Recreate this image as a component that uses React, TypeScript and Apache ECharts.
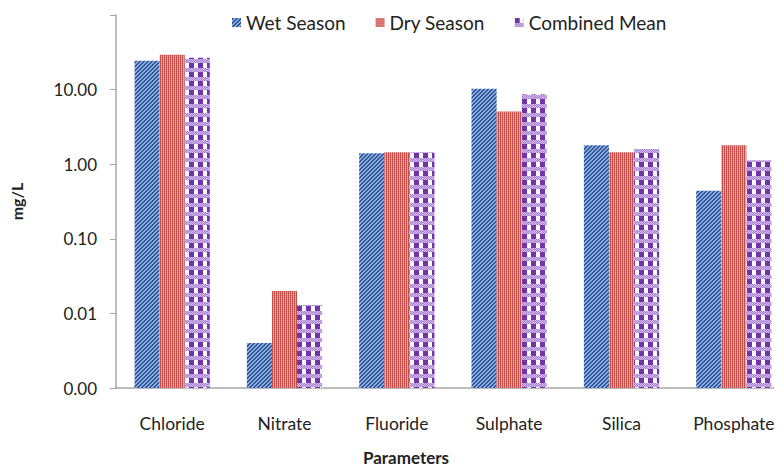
import React, { useEffect, useRef } from "react";
import * as echarts from "echarts";

const categories = ["Chloride", "Nitrate", "Fluoride", "Sulphate", "Silica", "Phosphate"];
const wetSeason = [24.4, 0.004, 1.4, 10.3, 1.8, 0.44];
const drySeason = [29.3, 0.02, 1.45, 5.1, 1.45, 1.8];
const combinedMean = [26.7, 0.013, 1.45, 8.6, 1.6, 1.13];
const yTickLabels = ["0.00", "0.01", "0.10", "1.00", "10.00", ""];

type Painter = (x: number, y: number) => string;

function makePattern(w: number, h: number, paint: Painter) {
  const c = document.createElement("canvas");
  c.width = w;
  c.height = h;
  const ctx = c.getContext("2d")!;
  for (let y = 0; y < h; y++) {
    for (let x = 0; x < w; x++) {
      ctx.fillStyle = paint(x, y);
      ctx.fillRect(x, y, 1, 1);
    }
  }
  return { image: c.toDataURL(), repeat: "repeat", imageWidth: w, imageHeight: h } as any;
}

export default function App() {
  const ref = useRef<HTMLDivElement>(null);
  useEffect(() => {
    if (!ref.current) return;
    const chart = echarts.init(ref.current, null, { renderer: "svg" });

    const wetFill = makePattern(4, 4, (x, y) => ((x + y) % 4 < 2 ? "#2c5496" : "#8eaee0"));
    const dryFill = makePattern(2, 2, (x, y) => (x === 0 ? "#c44f4b" : y === 0 ? "#f2b8b4" : "#df8a85"));
    const combFill = makePattern(9, 9, (x, y) => {
      if (y < 5) return x < 5 ? "#7232a8" : "#ffffff";
      return (x + y) % 2 === 0 ? "#a87fd2" : "#d2bcec";
    });

    const font = "Lato, 'Open Sans', sans-serif";
    const mkSeries = (name: string, data: number[], fill: any) => ({
      name,
      type: "bar",
      data,
      barGap: "0%",
      barCategoryGap: "33%",
      itemStyle: { color: fill },
    });

    chart.setOption({
      animation: false,
      textStyle: { fontFamily: font },
      legend: {
        top: 13,
        left: 232,
        padding: 0,
        itemWidth: 9,
        itemHeight: 9,
        itemGap: 30,
        icon: "rect",
        textStyle: { fontSize: 19, color: "#222", fontFamily: font },
        data: ["Wet Season", "Dry Season", "Combined Mean"],
      },
      grid: { left: 116, right: -8, top: 15, bottom: 85, containLabel: false, outerBoundsMode: "none" },
      xAxis: {
        type: "category",
        data: categories,
        axisLine: { lineStyle: { color: "#a6a6a6", width: 1.5 } },
        axisTick: { show: false },
        axisLabel: { fontSize: 17.5, color: "#222", margin: 26, fontFamily: font, interval: 0 },
        name: "Parameters",
        nameLocation: "middle",
        nameGap: 61,
        nameTextStyle: { fontSize: 17, fontWeight: "bold", color: "#222", fontFamily: font, padding: [0, 94, 0, 0] },
      },
      yAxis: {
        type: "log",
        logBase: 10,
        min: 0.001,
        max: 100,
        startValue: 0.001,
        axisLine: { show: true, lineStyle: { color: "#a6a6a6", width: 1.5 } },
        axisTick: { show: true, length: 6, lineStyle: { color: "#a6a6a6" } },
        splitLine: { show: false },
        axisLabel: {
          fontSize: 17,
          color: "#222",
          margin: 19,
          fontFamily: font,
          formatter: (v: number) => {
            const i = Math.round(Math.log10(v)) + 3;
            return yTickLabels[i] ?? "";
          },
        },
        name: "mg/L",
        nameLocation: "middle",
        nameGap: 92,
        nameRotate: 90,
        nameTextStyle: { fontSize: 16, fontWeight: "bold", color: "#222", fontFamily: font },
      },
      series: [
        mkSeries("Wet Season", wetSeason, wetFill),
        mkSeries("Dry Season", drySeason, dryFill),
        mkSeries("Combined Mean", combinedMean, combFill),
      ],
    });
    return () => chart.dispose();
  }, []);
  return <div ref={ref} style={{ width: 782, height: 473, margin: -8 }} />;
}
